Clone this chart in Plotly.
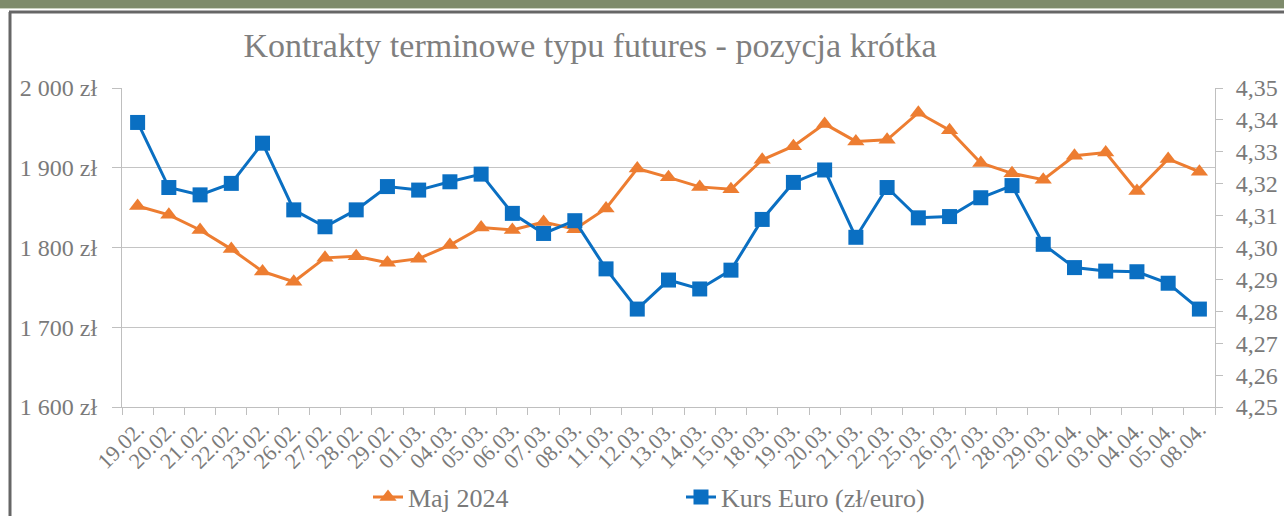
import plotly.graph_objects as go

categories = ["19.02.", "20.02.", "21.02.", "22.02.", "23.02.", "26.02.", "27.02.", "28.02.",
              "29.02.", "01.03.", "04.03.", "05.03.", "06.03.", "07.03.", "08.03.", "11.03.",
              "12.03.", "13.03.", "14.03.", "15.03.", "18.03.", "19.03.", "20.03.", "21.03.",
              "22.03.", "25.03.", "26.03.", "27.03.", "28.03.", "29.03.", "02.04.", "03.04.",
              "04.04.", "05.04.", "08.04."]

maj_2024 = [1852, 1841, 1822, 1798, 1770, 1757, 1787, 1789, 1781, 1786, 1803, 1825,
            1822, 1832, 1823, 1849, 1899, 1888, 1876, 1873, 1910, 1927, 1955, 1933,
            1935, 1969, 1947, 1906, 1893, 1885, 1915, 1919, 1871, 1911, 1895]

kurs_euro = [4.3392, 4.3188, 4.3165, 4.3201, 4.3327, 4.3118, 4.3065, 4.3118, 4.3191,
             4.3180, 4.3206, 4.3230, 4.3107, 4.3044, 4.3084, 4.2933, 4.2807, 4.2898,
             4.2870, 4.2929, 4.3088, 4.3204, 4.3243, 4.3032, 4.3188, 4.3093, 4.3097,
             4.3156, 4.3194, 4.3010, 4.2937, 4.2926, 4.2924, 4.2888, 4.2807]

left_ticks = [1600, 1700, 1800, 1900, 2000]
left_ticktext = [f"{v // 1000} {v % 1000:03d} zł" for v in left_ticks]
right_ticks = [4.25, 4.26, 4.27, 4.28, 4.29, 4.30, 4.31, 4.32, 4.33, 4.34, 4.35]
right_ticktext = [f"{v:.2f}".replace(".", ",") for v in right_ticks]

TITLE = "Kontrakty terminowe typu futures - pozycja krótka"
ORANGE = "#ED7D31"
BLUE = "#0A6FC2"
GREY_TXT = "#7a7a7a"
FONT = "Liberation Serif"

W, H = 1284, 516
L, R, T, B = 122, 69, 88, 109
PW, PH = W - L - R, H - T - B


def px_x(x):
    return (x - L) / PW


def px_y(y):
    return (H - B - y) / PH


fig = go.Figure()
fig.add_trace(go.Scatter(
    x=categories, y=maj_2024, name="Maj 2024", mode="lines+markers",
    line=dict(color=ORANGE, width=3),
    marker=dict(symbol="triangle-up", size=15, color=ORANGE),
    yaxis="y",
))
fig.add_trace(go.Scatter(
    x=categories, y=kurs_euro, name="Kurs Euro (zł/euro)", mode="lines+markers",
    line=dict(color=BLUE, width=3),
    marker=dict(symbol="square", size=15, color=BLUE),
    yaxis="y2",
))

shapes = [
    dict(type="rect", xref="paper", yref="paper", x0=px_x(0), x1=px_x(W), y0=px_y(8), y1=px_y(0),
         fillcolor="#7e8b6b", line=dict(width=0), layer="above"),
    dict(type="line", xref="paper", yref="paper", x0=px_x(0), x1=px_x(W), y0=px_y(8.5), y1=px_y(8.5),
         line=dict(color="#c9d1bf", width=1)),
    dict(type="line", xref="paper", yref="paper", x0=px_x(9), x1=px_x(W), y0=px_y(12), y1=px_y(12),
         line=dict(color="#666666", width=3)),
    dict(type="line", xref="paper", yref="paper", x0=px_x(10), x1=px_x(10), y0=px_y(12), y1=px_y(H),
         line=dict(color="#666666", width=3)),
]

fig.update_layout(
    width=W, height=H,
    margin=dict(l=L, r=R, t=T, b=B, autoexpand=False),
    paper_bgcolor="white", plot_bgcolor="white",
    font=dict(family=FONT, color=GREY_TXT),
    title=dict(text=TITLE, x=590 / W, xref="container", xanchor="center",
               y=1 - 45 / H, yref="container", yanchor="middle",
               font=dict(family=FONT, size=34, color="#7f7f7f")),
    xaxis=dict(
        type="category", tickson="boundaries", ticks="outside", ticklen=7,
        tickcolor="#bfbfbf", showline=True, linecolor="#bfbfbf", linewidth=1,
        showgrid=False, tickangle=-45, tickfont=dict(family=FONT, size=22, color=GREY_TXT),
        range=[-0.5, len(categories) - 0.5], automargin=False,
    ),
    yaxis=dict(
        range=[1600, 2000], tickvals=left_ticks, ticktext=left_ticktext,
        ticks="outside", ticklen=9, tickcolor="#bfbfbf",
        showline=True, linecolor="#bfbfbf", linewidth=1,
        showgrid=True, gridcolor="#c4c4c4", gridwidth=1, zeroline=False,
        tickfont=dict(family=FONT, size=24, color=GREY_TXT), ticklabelstandoff=10,
        automargin=False,
    ),
    yaxis2=dict(
        range=[4.25, 4.35], tickvals=right_ticks, ticktext=right_ticktext,
        overlaying="y", side="right",
        ticks="outside", ticklen=7, tickcolor="#bfbfbf",
        showline=True, linecolor="#bfbfbf", linewidth=1,
        showgrid=False, zeroline=False,
        tickfont=dict(family=FONT, size=24, color=GREY_TXT), ticklabelstandoff=8,
        automargin=False,
    ),
    showlegend=True,
    legend=dict(orientation="h", x=px_x(368), xanchor="left", y=px_y(497), yanchor="middle",
                entrywidth=268, font=dict(family=FONT, size=26, color=GREY_TXT),
                bgcolor="rgba(0,0,0,0)"),
    shapes=shapes,
)

fig.write_html("out.html", config={"displayModeBar": False},
               post_script="document.body.style.margin='0';document.body.style.overflow='hidden';")
